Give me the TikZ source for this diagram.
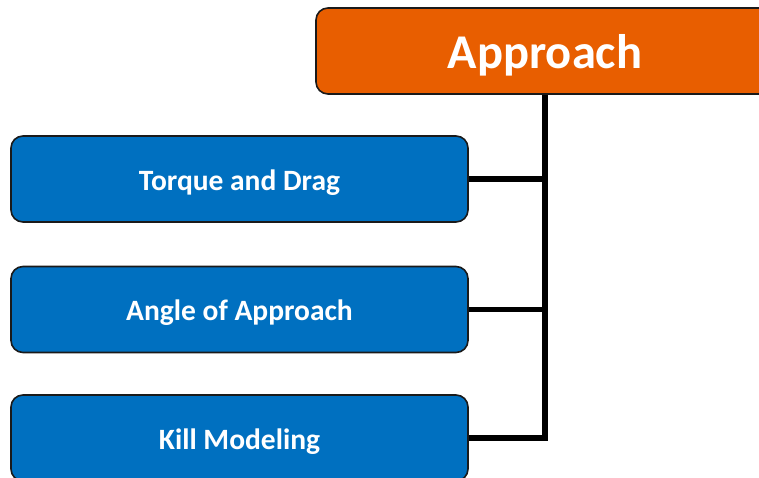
\documentclass[tikz,border=0pt]{standalone}
\usepackage{fontspec}
\setmainfont{Carlito}
\definecolor{apporange}{HTML}{E85E00}
\definecolor{appblue}{HTML}{0070C0}
\definecolor{edge}{HTML}{1A1A1A}
\begin{document}
\begin{tikzpicture}[x=1pt,y=-1pt,
  box/.style={draw=edge,line width=1.6pt,rounded corners=12pt,minimum height=86pt,inner sep=0pt,text=white,text depth=0pt},
  topbox/.style={box,fill=apporange,minimum width=458pt,text height=34pt,font=\bfseries\fontsize{48.5}{56}\selectfont},
  itembox/.style={box,fill=appblue,minimum width=457pt,text height=22pt,font=\bfseries\fontsize{29.5}{34}\selectfont},
  conn/.style={draw=black,line width=5.5pt,line join=miter}]
\useasboundingbox (0,0) rectangle (759,477);
\clip (0,0) rectangle (759,477);
\draw[conn] (545,94) -- (545,438);
\node[topbox] (top) at (545,51) {Approach};
\node[itembox] (b1) at (239.5,179) {Torque and Drag};
\node[itembox] (b2) at (239.5,309.5) {Angle of Approach};
\node[itembox] (b3) at (239.5,438) {Kill Modeling};
\draw[conn] (b1.east) -- (b1.east -| top.south);
\draw[conn] (b2.east) -- (b2.east -| top.south);
\draw[conn] (top.south) |- (b3.east);
\end{tikzpicture}
\end{document}
